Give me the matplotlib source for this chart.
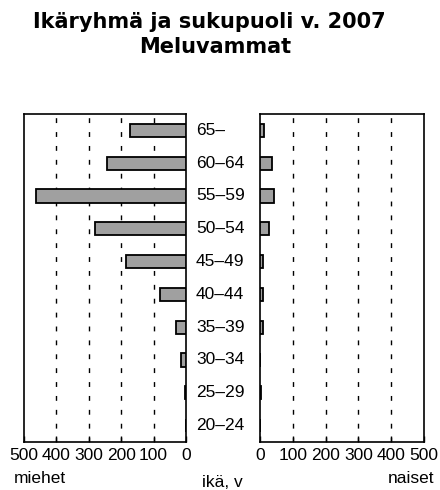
import matplotlib
matplotlib.use("Agg")
import matplotlib.pyplot as plt
from matplotlib.transforms import blended_transform_factory

# ---------------------------------------------------------------------------
# Data
# ---------------------------------------------------------------------------
age_groups = ["65–", "60–64", "55–59", "50–54", "45–49",
              "40–44", "35–39", "30–34", "25–29", "20–24"]
men = [173, 243, 463, 280, 185, 79, 30, 14, 3, 1]
women = [13, 37, 42, 28, 10, 9, 10, 1, 4, 0]
ticks = [0, 100, 200, 300, 400, 500]

BAR_COLOR = "#a0a0a0"
FONT = "Liberation Sans"

fig = plt.figure(figsize=(4.4, 4.9), dpi=100)
ax_m = fig.add_axes([24 / 440, 1 - 442 / 490, 162 / 440, 328 / 490])
ax_w = fig.add_axes([260 / 440, 1 - 442 / 490, 164 / 440, 328 / 490])

ypos = list(range(len(age_groups)))

for ax, vals in ((ax_m, men), (ax_w, women)):
    ax.barh(ypos, vals, height=0.4, color=BAR_COLOR, edgecolor="black",
            linewidth=1.3, zorder=3)
    ax.set_xlim(0, 500)
    ax.set_ylim(len(age_groups) - 0.5, -0.5)
    ax.set_xticks(ticks)
    ax.set_xticklabels([str(t) for t in ticks], fontsize=12.5, family=FONT)
    ax.set_yticks([])
    ax.tick_params(axis="x", direction="in", length=4, width=1, pad=4)
    for sp in ax.spines.values():
        sp.set_linewidth(1.2)
    for t in ticks[1:-1]:
        ax.axvline(t, color="black", linewidth=1, linestyle=(0, (3.5, 6.5)),
                   zorder=1)

ax_m.invert_xaxis()

# age labels between the two panels
trans = blended_transform_factory(fig.transFigure, ax_m.transData)
for i, lab in enumerate(age_groups):
    ax_m.text(196 / 440, i, lab, transform=trans, ha="left", va="center",
              fontsize=12.5, family=FONT, clip_on=False)

fig.text(14 / 440, 1 - 478 / 490, "miehet", fontsize=12.5, family=FONT,
         ha="left", va="center")
fig.text(434 / 440, 1 - 478 / 490, "naiset", fontsize=12.5, family=FONT,
         ha="right", va="center")
fig.text(222 / 440, 1 - 482 / 490, "ikä, v", fontsize=12.5, family=FONT,
         ha="center", va="center")

fig.text(209 / 440, 1 - 22 / 490, "Ikäryhmä ja sukupuoli v. 2007",
         fontsize=15, fontweight="bold", ha="center", va="center")
fig.text(215 / 440, 1 - 47 / 490, "Meluvammat",
         fontsize=15, fontweight="bold", ha="center", va="center")

fig.savefig("out.png", dpi=100)
plt.close(fig)
